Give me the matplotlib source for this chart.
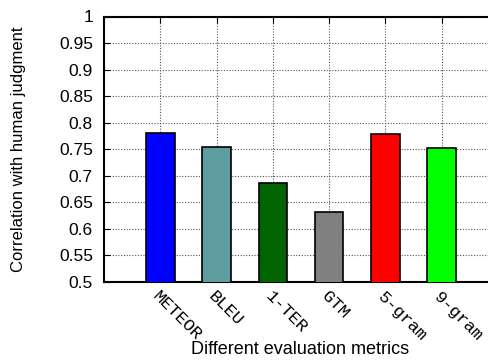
import matplotlib
matplotlib.use('Agg')
import matplotlib.pyplot as plt
import numpy as np

plt.rcParams['font.family'] = ['Liberation Sans', 'DejaVu Sans']

# correlation of each metric with human judgment
metrics = ['METEOR', 'BLEU', '1-TER', 'GTM', '5-gram', '9-gram']
correlation = [0.781, 0.754, 0.687, 0.632, 0.778, 0.752]
bar_colors = ['#0000ff', '#5f9ea0', '#006400', '#808080', '#ff0000', '#00ff00']
yticks = [0.5, 0.55, 0.6, 0.65, 0.7, 0.75, 0.8, 0.85, 0.9, 0.95, 1]

fig = plt.figure(figsize=(4.89, 3.6), dpi=100)
# the plot box runs past the right edge of the canvas
ax = fig.add_axes([104/489, 1 - 282/360, 394/489, (282 - 16.5)/360])

x = np.arange(1, len(metrics) + 1)
ax.bar(x, correlation, width=0.51, color=bar_colors, edgecolor='black',
       linewidth=1.2, zorder=3)

ax.set_xlim(0, 7)
ax.set_ylim(0.5, 1)
ax.set_yticks(yticks)
ax.set_yticklabels(['%g' % v for v in yticks], fontsize=12.5)
ax.set_xticks(x)
ax.set_xticklabels(metrics, family='Liberation Mono', fontsize=12.5,
                   rotation=-45, ha='left', va='top', rotation_mode='anchor')

ax.grid(True, linestyle=(0, (1, 1.5)), color='#555555', linewidth=0.8, zorder=0)
ax.tick_params(axis='x', direction='in', top=True, bottom=True, length=4, pad=5)
ax.tick_params(axis='y', direction='in', left=True, right=False, length=4, pad=8)
for s in ['left', 'top', 'bottom']:
    ax.spines[s].set_linewidth(1.5)
ax.spines['right'].set_visible(False)

ax.set_ylabel('Correlation with human judgment', fontsize=12)
ax.yaxis.set_label_coords(-78/394, 0.5)
fig.text(300/489, 1 - 350/360, 'Different evaluation metrics',
         ha='center', va='center', fontsize=13)

fig.savefig('out.png', dpi=100)
